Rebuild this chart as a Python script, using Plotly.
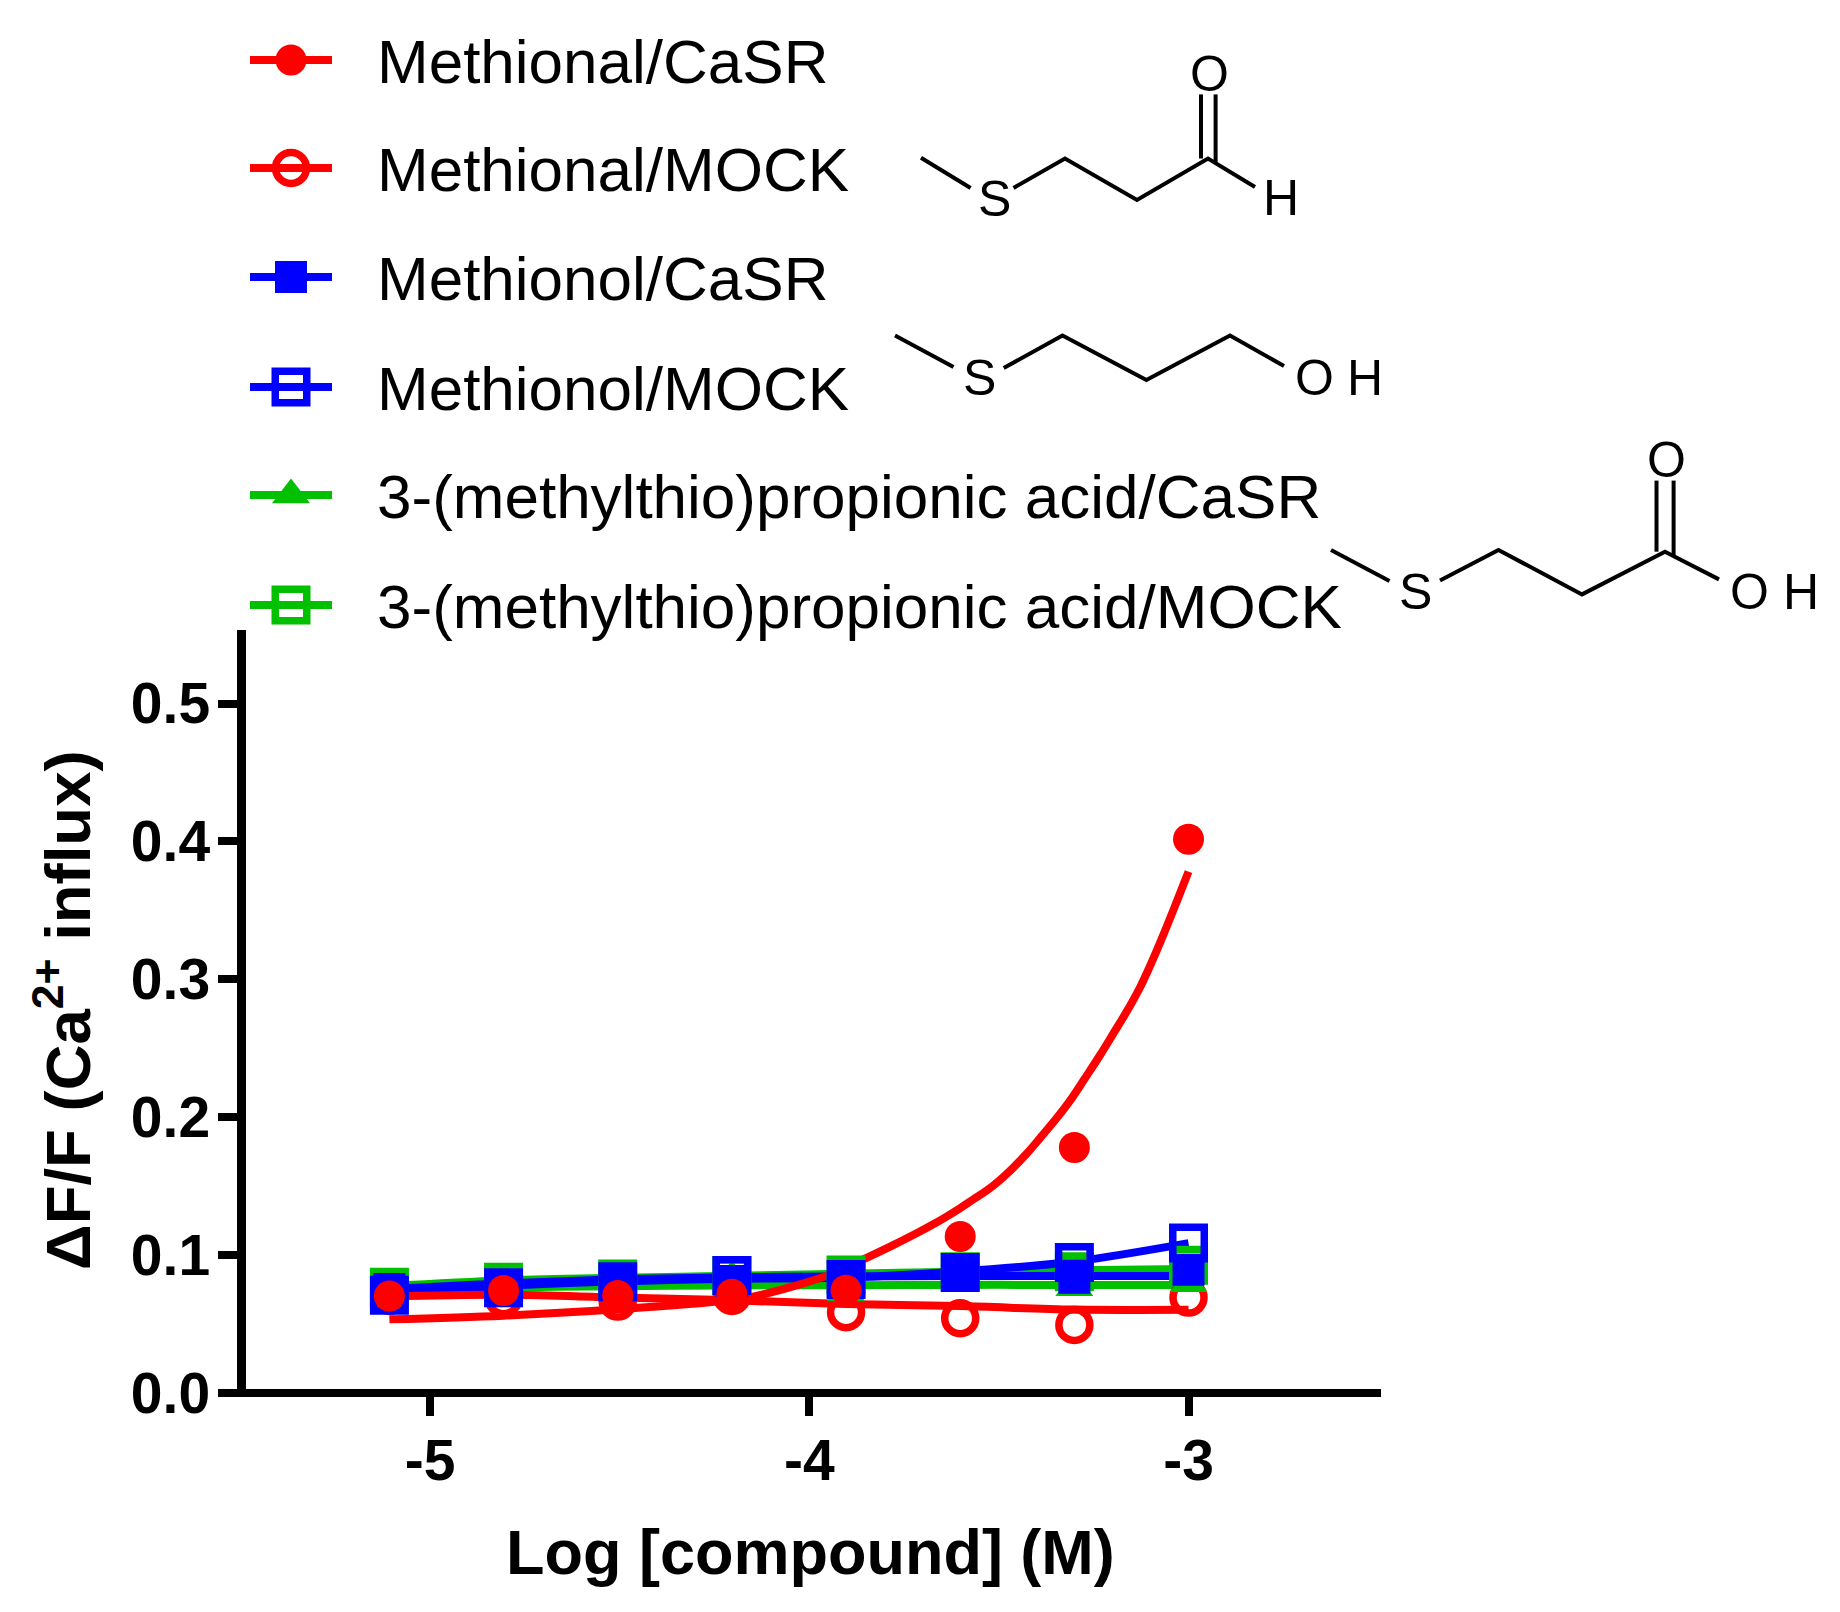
import plotly.graph_objects as go

W, H = 1840, 1612
FONT = "Liberation Sans, Arial, sans-serif"

RED, BLUE, GREEN = "#ff0000", "#0000ff", "#00c000"

# ---- data ----
log_conc = [-5.107, -4.806, -4.505, -4.204, -3.903, -3.602, -3.301, -3.0]

methional_casr_pts = [0.0704, 0.0743, 0.0707, 0.0717, 0.0746, 0.1135, 0.178, 0.4016]
methional_mock_pts = [0.0704, 0.0687, 0.0663, 0.0704, 0.0586, 0.0542, 0.0494, 0.0692]
methionol_casr_pts = [0.0755, 0.0782, 0.0810, 0.0813, 0.0845, 0.0874, 0.0835, 0.0893]
methionol_mock_pts = [0.0709, 0.0763, 0.0806, 0.0852, 0.0823, 0.0874, 0.0946, 0.1087]
acid_casr_pts = [0.0753, 0.0779, 0.0790, 0.0842, 0.0726, 0.0792, 0.0763, 0.0792]
acid_mock_pts = [0.0767, 0.0804, 0.0826, 0.0852, 0.0855, 0.0880, 0.0879, 0.0927]

methional_casr_fit_x = [-5.107, -4.806, -4.505, -4.204, -4.148, -3.954, -3.853, -3.784, -3.717, -3.673,
                        -3.638, -3.603, -3.567, -3.532, -3.497, -3.462, -3.427, -3.392, -3.348, -3.308,
                        -3.273, -3.233, -3.198, -3.163, -3.128, -3.097, -3.066, -3.033, -3.0]
methional_casr_fit_y = [0.0534, 0.0561, 0.0607, 0.0674, 0.0698, 0.0850, 0.0975, 0.1065, 0.1158, 0.1223,
                        0.1279, 0.1339, 0.1405, 0.1468, 0.1545, 0.1635, 0.1735, 0.1847, 0.1992, 0.2137,
                        0.2282, 0.2451, 0.2608, 0.2766, 0.2941, 0.3125, 0.3325, 0.3550, 0.3781]
methional_mock_fit = [0.0700, 0.0712, 0.0692, 0.0672, 0.0645, 0.0630, 0.0605, 0.0603]
methionol_casr_fit = [0.0755, 0.0795, 0.0825, 0.0840, 0.0845, 0.0848, 0.0848, 0.0848]
methionol_mock_fit = [0.0709, 0.0776, 0.0809, 0.0828, 0.0838, 0.0881, 0.0954, 0.1087]
acid_casr_fit = [0.0753, 0.0765, 0.0775, 0.0780, 0.0782, 0.0784, 0.0784, 0.0784]
acid_mock_fit = [0.0775, 0.0815, 0.0835, 0.0850, 0.0865, 0.0880, 0.0890, 0.0900]

legend_labels = ["Methional/CaSR", "Methional/MOCK", "Methionol/CaSR", "Methionol/MOCK",
                 "3-(methylthio)propionic acid/CaSR", "3-(methylthio)propionic acid/MOCK"]
x_tick_vals = [-5, -4, -3]
x_tick_text = ["-5", "-4", "-3"]
y_tick_vals = [0, 0.1, 0.2, 0.3, 0.4, 0.5]
y_tick_text = ["0.0", "0.1", "0.2", "0.3", "0.4", "0.5"]
x_title = "Log [compound] (M)"
y_title = "\u0394F/F (Ca<sup>2+</sup> influx)"

# styling per series
colors = [RED, RED, BLUE, BLUE, GREEN, GREEN]
symbols = ["circle", "circle-open", "square", "square-open", "triangle-up", "square-open"]
sizes = [31, 31, 32, 31.5, 33, 31.5]

# page-pixel positions of legend rows and chemical structures
legend_row_y = [60, 168, 277, 387, 495, 605]
legend_line_x = [250, 332]
legend_mark_x = [291]
legend_text_x = 375

bond_paths = [
    ([921, 970.6], [157.7, 188]),
    ([1013.5, 1065, 1137, 1208, 1255], [188, 158.5, 200, 158.5, 187]),
    ([1201, 1201], [94.4, 158.5]),
    ([1215.6, 1215.6], [94.4, 162]),
    ([895, 953.5], [335.5, 367]),
    ([1003.7, 1062.5, 1146.4, 1230, 1284], [368, 335.5, 380, 335.5, 366]),
    ([1331, 1389.5], [550, 581]),
    ([1440, 1498.5, 1582, 1665, 1719], [580.6, 550, 594.4, 551.7, 579.4]),
    ([1656.5, 1656.5], [480.6, 551.7]),
    ([1673.6, 1673.6], [480.6, 555]),
]
atom_labels = ["O", "S", "H", "S", "O", "H", "O", "S", "O", "H"]
atom_x = [1209, 994, 1281, 979, 1314, 1365, 1666, 1415, 1749, 1801]
atom_y = [74, 199, 198, 378, 378, 378, 460, 592, 592, 592]

fig = go.Figure()


def add_line(x, y, color, shape="linear"):
    fig.add_trace(go.Scatter(x=x, y=y, mode="lines", showlegend=False, hoverinfo="skip",
                             line=dict(color=color, width=8, shape=shape, smoothing=1.0, simplify=False)))


def add_marks(x, y, color, symbol, size, xa="x", ya="y"):
    open_mark = symbol.endswith("-open")
    fig.add_trace(go.Scatter(x=x, y=y, mode="markers", showlegend=False, xaxis=xa, yaxis=ya,
                             marker=dict(color=color, symbol=symbol, size=size,
                                         line=dict(color=color, width=7.5 if open_mark else 0))))


# fitted curves (drawn first, in this stacking order)
add_line(log_conc, acid_mock_fit, GREEN, "spline")
add_line(log_conc, acid_casr_fit, GREEN, "spline")
add_line(log_conc, methionol_mock_fit, BLUE, "spline")
add_line(log_conc, methionol_casr_fit, BLUE, "spline")
add_line(log_conc, methional_mock_fit, RED, "spline")
add_line(methional_casr_fit_x, methional_casr_fit_y, RED, "spline")

# symbols
add_marks(log_conc, methional_mock_pts, RED, "circle-open", sizes[1])
add_marks(log_conc, acid_mock_pts, GREEN, "square-open", sizes[5])
add_marks(log_conc, acid_casr_pts, GREEN, "triangle-up", sizes[4])
add_marks(log_conc, methionol_mock_pts, BLUE, "square-open", sizes[3])
add_marks(log_conc, methionol_casr_pts, BLUE, "square", sizes[2])
add_marks(log_conc, methional_casr_pts, RED, "circle", sizes[0])

# legend samples, on a hidden page-pixel axis
for i, label in enumerate(legend_labels):
    fig.add_trace(go.Scatter(x=legend_line_x, y=[legend_row_y[i]] * 2, mode="lines", showlegend=False,
                             xaxis="x2", yaxis="y2", line=dict(color=colors[i], width=8)))
    add_marks(legend_mark_x, [legend_row_y[i]], colors[i], symbols[i], sizes[i], "x2", "y2")

# chemical structures
for bx, by in bond_paths:
    fig.add_trace(go.Scatter(x=bx, y=by, mode="lines", showlegend=False, xaxis="x2", yaxis="y2",
                             line=dict(color="black", width=4)))

bold_tick = dict(family=FONT, size=57, color="black", weight=700)

annotations = []
for i, label in enumerate(legend_labels):
    annotations.append(dict(x=legend_text_x, y=legend_row_y[i] + 1, xref="x2", yref="y2", text=label,
                            showarrow=False, xanchor="left", yanchor="middle",
                            font=dict(family=FONT, size=62, color="black")))
for t, ax_, ay_ in zip(atom_labels, atom_x, atom_y):
    annotations.append(dict(x=ax_, y=ay_, xref="x2", yref="y2", text=t, showarrow=False,
                            xanchor="center", yanchor="middle",
                            font=dict(family=FONT, size=50, color="black")))
annotations.append(dict(x=810, y=1552, xref="x2", yref="y2", text=x_title, showarrow=False,
                        xanchor="center", yanchor="middle",
                        font=dict(family=FONT, size=63, color="black", weight=700)))
annotations.append(dict(x=63, y=1010, xref="x2", yref="y2", text=y_title, showarrow=False, textangle=-90,
                        xanchor="center", yanchor="middle",
                        font=dict(family=FONT, size=63.5, color="black", weight=700)))

fig.update_layout(
    width=W, height=H, autosize=False,
    margin=dict(l=0, r=0, t=0, b=0),
    paper_bgcolor="white", plot_bgcolor="rgba(0,0,0,0)",
    showlegend=False,
    annotations=annotations,
    xaxis=dict(
        domain=[236 / W, 1381 / W], range=[-5.5115, -2.4925],
        anchor="free", position=(H - 1393) / H, automargin=False,
        showgrid=False, zeroline=False,
        showline=True, linecolor="black", linewidth=8,
        ticks="outside", ticklen=19, tickwidth=8, tickcolor="black",
        tickvals=x_tick_vals, ticktext=x_tick_text, tickfont=bold_tick, ticklabelstandoff=-4,
    ),
    yaxis=dict(
        domain=[(H - 1393) / H, (H - 630) / H], range=[0, 0.5533],
        anchor="free", position=240.5 / W, automargin=False,
        showgrid=False, zeroline=False,
        showline=True, linecolor="black", linewidth=9,
        ticks="outside", ticklen=19, tickwidth=8, tickcolor="black",
        tickvals=y_tick_vals, ticktext=y_tick_text, tickfont=bold_tick, ticklabelstandoff=-4,
    ),
    xaxis2=dict(domain=[0, 1], range=[0, W], visible=False, anchor="y2", fixedrange=True),
    yaxis2=dict(domain=[0, 1], range=[H, 0], visible=False, anchor="x2", fixedrange=True),
)

fig.write_html("out.html", config=dict(displayModeBar=False),
               post_script="document.body.style.margin='0';document.documentElement.style.overflow='hidden';")
